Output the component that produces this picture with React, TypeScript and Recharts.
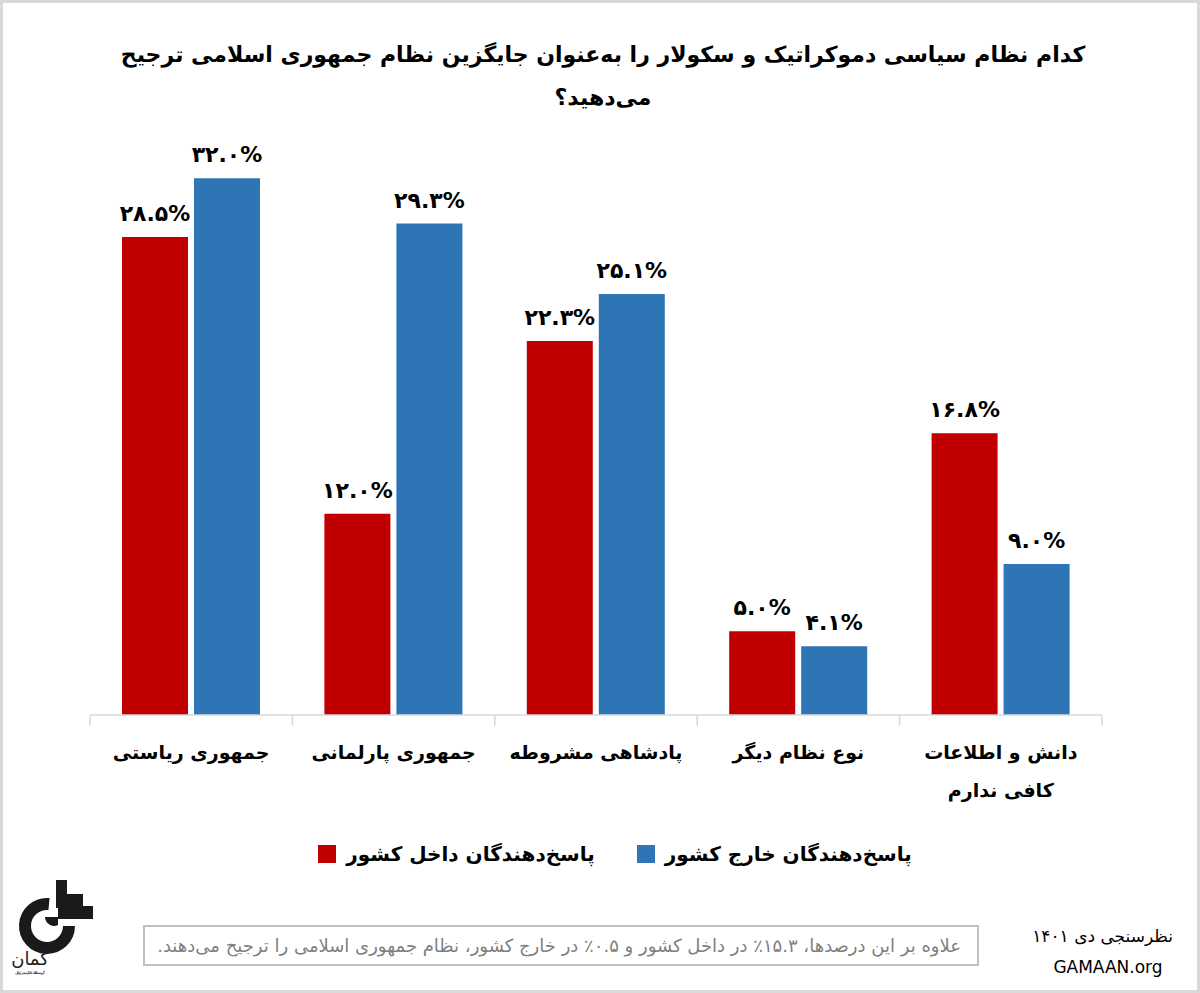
import React from 'react';
import { BarChart, Bar, XAxis, YAxis, LabelList } from 'recharts';

const categories = [
  'جمهوری ریاستی',
  'جمهوری پارلمانی',
  'پادشاهی مشروطه',
  'نوع نظام دیگر',
  'دانش و اطلاعات\nکافی ندارم',
];
const insideValues = [28.5, 12.0, 22.3, 5.0, 16.8];
const outsideValues = [32.0, 29.3, 25.1, 4.1, 9.0];
const seriesNames = ['پاسخ‌دهندگان داخل کشور', 'پاسخ‌دهندگان خارج کشور'];
const titleLines = [
  'کدام نظام سیاسی دموکراتیک و سکولار را به‌عنوان جایگزین نظام جمهوری اسلامی ترجیح',
  'می‌دهید؟',
];
const footnote = 'علاوه بر این درصدها، ۱۵.۳٪ در داخل کشور و ۰.۵٪ در خارج کشور، نظام جمهوری اسلامی را ترجیح می‌دهند.';
const surveyLabel = 'نظرسنجی دی ۱۴۰۱';
const siteLabel = 'GAMAAN.org';
const logoName = 'گمان';
const logoCaption = 'گروه مطالعات افکارسنجی ایرانیان';

const RED = '#C00000';
const BLUE = '#2E75B6';
const FONT = '"DejaVu Sans", sans-serif';

const CHART_W = 1200;
const MARGIN = { top: 128, right: 98, left: 90, bottom: 65 };
const BAND = (CHART_W - MARGIN.left - MARGIN.right) / categories.length;

const data = categories.map((name, i) => ({
  name,
  inside: insideValues[i],
  outside: outsideValues[i],
}));

const faDigits = (s: string) => s.replace(/[0-9]/g, (d) => '۰۱۲۳۴۵۶۷۸۹'[Number(d)]);
const fmt = (v: any) => faDigits(Number(v).toFixed(1)) + '%';

const CategoryTick = (props: any) => {
  const { x, y, payload, index } = props;
  const lines = String(payload.value).split('\n');
  return (
    <g>
      <line x1={x - BAND / 2} x2={x - BAND / 2} y1={y} y2={y + 11} stroke="#d9d9d9" strokeWidth={1.5} />
      {index === categories.length - 1 && (
        <line x1={x + BAND / 2} x2={x + BAND / 2} y1={y} y2={y + 11} stroke="#d9d9d9" strokeWidth={1.5} />
      )}
      {lines.map((l, i) => (
        <text
          key={i}
          x={x}
          y={y + 44 + i * 38}
          textAnchor="middle"
          fill="#000"
          fontSize={19}
          fontWeight="bold"
          fontFamily={FONT}
        >
          {l}
        </text>
      ))}
    </g>
  );
};

// rough drawing of the GAMAAN mark
const Logo = () => (
  <svg width={100} height={110} style={{ position: 'absolute', left: 0, top: 870 }}>
    <path d="M 46 31 A 22 22 0 1 0 66 53" fill="none" stroke="#1a1a1a" strokeWidth={12} />
    <path d="M 42 44 A 9 9 0 0 0 55 52 L 55 44 Z" fill="#1a1a1a" />
    <rect x={53} y={7} width={11} height={28} fill="#1a1a1a" />
    <rect x={55} y={21} width={25} height={12} fill="#1a1a1a" />
    <rect x={55} y={33} width={35} height={13} fill="#1a1a1a" />
    <text x={27} y={92} textAnchor="middle" fontSize={18} fontFamily={FONT} fill="#222">{logoName}</text>
    <text x={27} y={101} textAnchor="middle" fontSize={4} textLength={30} fontFamily={FONT} fill="#222">{logoCaption}</text>
  </svg>
);

export default function App() {
  return (
    <div
      style={{
        position: 'absolute',
        left: 0,
        top: 0,
        width: 1200,
        height: 993,
        boxSizing: 'border-box',
        border: '3px solid #d9d9d9',
        background: '#fff',
        fontFamily: FONT,
        overflow: 'hidden',
      }}
    >
      <div
        dir="rtl"
        style={{
          position: 'absolute',
          left: 0,
          top: 30,
          width: 1200,
          textAlign: 'center',
          fontSize: 22,
          fontWeight: 'bold',
          lineHeight: '43px',
          color: '#000',
        }}
      >
        {titleLines.map((t, i) => (
          <div key={i}>{t}</div>
        ))}
      </div>

      <div style={{ position: 'absolute', left: -3, top: -3 }}>
        <BarChart
          width={CHART_W}
          height={840}
          data={data}
          margin={MARGIN}
          barCategoryGap={32}
          barGap={6}
        >
          <XAxis
            dataKey="name"
            axisLine={{ stroke: '#d9d9d9', strokeWidth: 1.5 }}
            tickLine={false}
            tickSize={0}
            tickMargin={0}
            height={60}
            interval={0}
            tick={<CategoryTick />}
          />
          <YAxis hide domain={[0, 35]} />
          <Bar dataKey="inside" name={seriesNames[0]} fill={RED} isAnimationActive={false}>
            <LabelList
              dataKey="inside"
              position="top"
              offset={16}
              formatter={fmt}
              fill="#000"
              fontSize={22}
              fontWeight="bold"
              fontFamily={FONT}
            />
          </Bar>
          <Bar dataKey="outside" name={seriesNames[1]} fill={BLUE} isAnimationActive={false}>
            <LabelList
              dataKey="outside"
              position="top"
              offset={16}
              formatter={fmt}
              fill="#000"
              fontSize={22}
              fontWeight="bold"
              fontFamily={FONT}
            />
          </Bar>
        </BarChart>
      </div>

      <div
        style={{
          position: 'absolute',
          left: 12,
          top: 839,
          width: 1200,
          display: 'flex',
          justifyContent: 'center',
          alignItems: 'center',
          gap: 42,
          fontSize: 20,
          fontWeight: 'bold',
          color: '#000',
        }}
      >
        {[RED, BLUE].map((c, i) => (
          <div key={i} style={{ display: 'flex', alignItems: 'center', gap: 10 }}>
            <span style={{ width: 18, height: 18, background: c, display: 'inline-block' }} />
            <span dir="rtl">{seriesNames[i]}</span>
          </div>
        ))}
      </div>

      <Logo />

      <div
        dir="rtl"
        style={{
          position: 'absolute',
          left: 140,
          top: 922,
          width: 836,
          height: 41,
          boxSizing: 'border-box',
          border: '2px solid #bfbfbf',
          color: '#7f7f7f',
          fontSize: 18,
          lineHeight: '37px',
          paddingRight: 16,
          whiteSpace: 'nowrap',
        }}
      >
        {footnote}
      </div>

      <div
        dir="rtl"
        style={{
          position: 'absolute',
          left: 1010,
          top: 918,
          width: 160,
          textAlign: 'right',
          fontSize: 17,
          lineHeight: '31px',
          color: '#000',
          whiteSpace: 'nowrap',
        }}
      >
        {surveyLabel}
      </div>
      <div
        style={{
          position: 'absolute',
          left: 1030,
          top: 949,
          width: 150,
          textAlign: 'center',
          fontSize: 17,
          lineHeight: '31px',
          color: '#000',
          whiteSpace: 'nowrap',
        }}
      >
        {siteLabel}
      </div>
    </div>
  );
}
